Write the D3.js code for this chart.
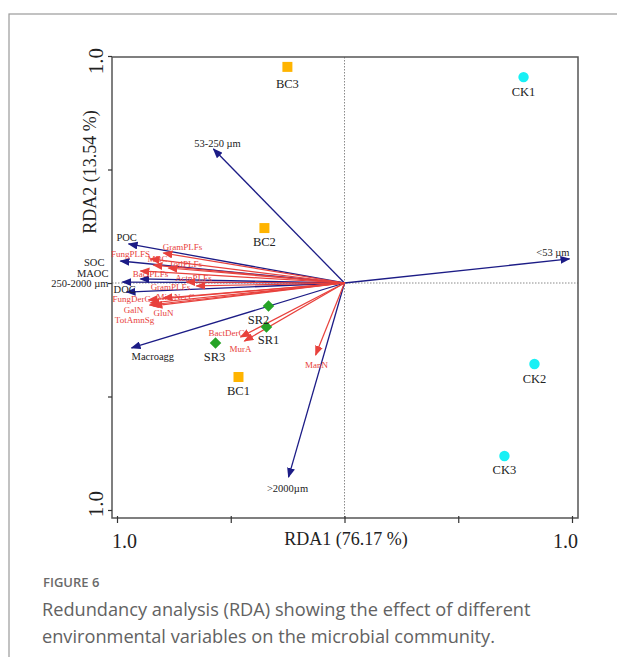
<!DOCTYPE html>
<html>
<head>
<meta charset="utf-8">
<script src="https://cdn.jsdelivr.net/npm/d3@7"></script>
<style>
  body { margin: 0; background: #fff; }
  svg { display: block; }
</style>
</head>
<body>
<svg id="rda" width="617" height="657"></svg>
<script>
// samples (site scores)
var samples   = ["BC1", "BC2", "BC3", "CK1", "CK2", "CK3", "SR1", "SR2", "SR3"];
var sampleX   = [-0.466, -0.352, -0.251, 0.787, 0.835, 0.703, -0.343, -0.334, -0.567];
var sampleY   = [-0.414, 0.242, 0.952, 0.907, -0.357, -0.762, -0.194, -0.101, -0.264];
var sampleGrp = ["BC", "BC", "BC", "CK", "CK", "CK", "SR", "SR", "SR"];

// environmental variables (blue arrows)
var envNames = ["53-250 µm", "POC", "SOC", "MAOC", "250-2000 µm", "DOC", "Macroagg", ">2000µm", "<53 µm"];
var envX     = [-0.576, -0.949, -0.985, -0.897, -0.976, -0.958, -0.936, -0.246, 0.989];
var envY     = [0.590, 0.172, 0.097, 0.018, 0.004, -0.040, -0.286, -0.855, 0.106];

// microbial variables (red arrows)
var micNames = ["GramPLFs", "FungPLFS", "MBC", "TotlPLFs", "BactPLFs", "ActnPLFs", "GramPLFs",
                "MicrNecC", "FungDerC", "GalN", "TotAmnSg", "GluN", "BactDerC", "MurA", "ManN"];
var micX     = [-0.796, -0.853, -0.840, -0.774, -0.897, -0.695, -0.651,
                -0.796, -0.862, -0.853, -0.857, -0.840, -0.457, -0.440, -0.127];
var micY     = [0.132, 0.106, 0.079, 0.066, 0.053, 0.004, -0.013,
                -0.066, -0.075, -0.088, -0.097, -0.101, -0.238, -0.256, -0.317];

var xTicks = [-1, -0.5, 0, 0.5, 1];
var yTicks = [-1, -0.5, 0, 0.5, 1];
var xTitle = "RDA1 (76.17 %)";
var yTitle = "RDA2 (13.54 %)";

// label placement (pixel offsets from arrow tip / symbol)
var envLab = [[4, -6, "middle"], [-2, -7, "middle"], [-16, 1, "end"], [-32, -6, "end"], [-14, 1, "end"],
              [-13, -3, "start"], [0, 8, "start"], [-1, 11, "middle"], [0, -7, "end"]];
var micLab = [[19, -6], [-20, -5], [4, -6], [17, -4], [10, 3], [7, -4], [-26, 1],
              [12, -1], [-17, -1], [-17, 7], [-15, 15], [10, 7], [-14, -4], [-4, 8], [1, 10]];
var sampleLab = [[0, 14], [0, 14], [0, 17], [0, 15], [0, 15], [0, 14], [2, 13], [-10, 14], [-1, 14]];

var serif = "'Liberation Serif', 'Times New Roman', serif";
var blue = "#1c1c86", red = "#e8413c";

var svg = d3.select("#rda");

// outer figure frame
svg.append("rect")
  .attr("x", 9).attr("y", 14).attr("width", 700).attr("height", 700)
  .attr("fill", "none").attr("stroke", "#9a9a9a").attr("stroke-width", 1.2);

var x = d3.scaleLinear().domain([-1, 1]).range([117, 572]);
var y = d3.scaleLinear().domain([-1, 1]).range([510, 56]);

var box = { l: 112, r: 578, t: 57, b: 518 };

// zero lines
svg.append("line")
  .attr("x1", x(0)).attr("x2", x(0)).attr("y1", box.t).attr("y2", box.b)
  .attr("stroke", "#8a8a8a").attr("stroke-dasharray", "1.5,1.5");
svg.append("line")
  .attr("x1", box.l).attr("x2", box.r).attr("y1", y(0)).attr("y2", y(0))
  .attr("stroke", "#8a8a8a").attr("stroke-dasharray", "1.5,1.5");

// frame
svg.append("rect")
  .attr("x", box.l).attr("y", box.t).attr("width", box.r - box.l).attr("height", box.b - box.t)
  .attr("fill", "none").attr("stroke", "#555").attr("stroke-width", 1.5);

// axes (ticks only, labels drawn below)
var xAxis = svg.append("g")
  .attr("transform", "translate(0," + box.b + ")")
  .call(d3.axisBottom(x).tickValues(xTicks).tickSize(5).tickFormat(""));
var yAxis = svg.append("g")
  .attr("transform", "translate(" + box.l + ",0)")
  .call(d3.axisLeft(y).tickValues(yTicks).tickSize(4).tickFormat(""));
[xAxis, yAxis].forEach(function(g) {
  g.select(".domain").remove();
  g.selectAll(".tick line").attr("stroke", "#333").attr("stroke-width", 1.2);
});
xAxis.selectAll(".tick line").attr("y1", -2);

// tick labels
svg.append("text").attr("x", box.l).attr("y", 548)
  .attr("font-family", serif).attr("font-size", 20).attr("fill", "#222").text("1.0");
svg.append("text").attr("x", box.r).attr("y", 548).attr("text-anchor", "end")
  .attr("font-family", serif).attr("font-size", 20).attr("fill", "#222").text("1.0");
svg.append("text")
  .attr("transform", "translate(103," + (y(1) + 5) + ") rotate(-90)")
  .attr("text-anchor", "middle")
  .attr("font-family", serif).attr("font-size", 21).attr("fill", "#222").text("1.0");
svg.append("text")
  .attr("transform", "translate(103," + (y(-1) - 6) + ") rotate(-90)")
  .attr("text-anchor", "middle")
  .attr("font-family", serif).attr("font-size", 21).attr("fill", "#222").text("1.0");

// axis titles
svg.append("text").attr("x", 346).attr("y", 545).attr("text-anchor", "middle")
  .attr("font-family", serif).attr("font-size", 18).attr("fill", "#222").text(xTitle);
svg.append("text")
  .attr("transform", "translate(96,172) rotate(-90)")
  .attr("text-anchor", "middle")
  .attr("font-family", serif).attr("font-size", 18).attr("fill", "#222").text(yTitle);

// arrow markers
var defs = svg.append("defs");
[["blueHead", blue], ["redHead", red]].forEach(function(m) {
  defs.append("marker")
    .attr("id", m[0])
    .attr("markerUnits", "userSpaceOnUse")
    .attr("viewBox", "0 0 10 8")
    .attr("markerWidth", 10).attr("markerHeight", 8)
    .attr("refX", 9).attr("refY", 4)
    .attr("orient", "auto")
    .append("path").attr("d", "M0,0 L10,4 L0,8 Z").attr("fill", m[1]);
});

// blue arrows
svg.append("g").selectAll("line")
  .data(envNames)
  .enter()
  .append("line")
  .attr("x1", x(0)).attr("y1", y(0))
  .attr("x2", function(d, i) { return x(envX[i]); })
  .attr("y2", function(d, i) { return y(envY[i]); })
  .attr("stroke", blue).attr("stroke-width", 1.3)
  .attr("marker-end", "url(#blueHead)");

// red arrows
svg.append("g").selectAll("line")
  .data(micNames)
  .enter()
  .append("line")
  .attr("x1", x(0)).attr("y1", y(0))
  .attr("x2", function(d, i) { return x(micX[i]); })
  .attr("y2", function(d, i) { return y(micY[i]); })
  .attr("stroke", red).attr("stroke-width", 1.2)
  .attr("marker-end", "url(#redHead)");

// arrow labels
svg.append("g").selectAll("text")
  .data(envNames)
  .enter()
  .append("text")
  .attr("x", function(d, i) { return x(envX[i]) + envLab[i][0]; })
  .attr("y", function(d, i) { return y(envY[i]) + envLab[i][1]; })
  .attr("dy", "0.35em")
  .attr("text-anchor", function(d, i) { return envLab[i][2]; })
  .attr("font-family", serif).attr("font-size", 10.5).attr("fill", "#222")
  .text(function(d) { return d; });

svg.append("g").selectAll("text")
  .data(micNames)
  .enter()
  .append("text")
  .attr("x", function(d, i) { return x(micX[i]) + micLab[i][0]; })
  .attr("y", function(d, i) { return y(micY[i]) + micLab[i][1]; })
  .attr("dy", "0.35em")
  .attr("text-anchor", "middle")
  .attr("font-family", serif).attr("font-size", 9).attr("fill", red)
  .text(function(d) { return d; });

// sample symbols
var symType = { BC: d3.symbolSquare, CK: d3.symbolCircle, SR: d3.symbolDiamond2 };
var symSize = { BC: 100, CK: 85, SR: 85 };
var symFill = { BC: "#ffb400", CK: "#18f0f5", SR: "#26a326" };

svg.append("g").selectAll("path")
  .data(samples)
  .enter()
  .append("path")
  .attr("transform", function(d, i) { return "translate(" + x(sampleX[i]) + "," + y(sampleY[i]) + ")"; })
  .attr("d", function(d, i) { return d3.symbol().type(symType[sampleGrp[i]]).size(symSize[sampleGrp[i]])(); })
  .attr("fill", function(d, i) { return symFill[sampleGrp[i]]; });

svg.append("g").selectAll("text")
  .data(samples)
  .enter()
  .append("text")
  .attr("x", function(d, i) { return x(sampleX[i]) + sampleLab[i][0]; })
  .attr("y", function(d, i) { return y(sampleY[i]) + sampleLab[i][1]; })
  .attr("dy", "0.35em")
  .attr("text-anchor", "middle")
  .attr("font-family", serif).attr("font-size", 12.5).attr("fill", "#222")
  .text(function(d) { return d; });

// caption
var sans = "'Open Sans', 'Noto Sans', sans-serif";
svg.append("text").attr("x", 43).attr("y", 587)
  .attr("font-family", sans).attr("font-size", 13).attr("font-weight", 600).attr("fill", "#6a6a6a")
  .text("FIGURE 6");
svg.append("text").attr("x", 42).attr("y", 616)
  .attr("font-family", sans).attr("font-size", 18.2).attr("fill", "#626262")
  .text("Redundancy analysis (RDA) showing the effect of different");
svg.append("text").attr("x", 42).attr("y", 643)
  .attr("font-family", sans).attr("font-size", 18.2).attr("fill", "#626262")
  .text("environmental variables on the microbial community.");
</script>
</body>
</html>
